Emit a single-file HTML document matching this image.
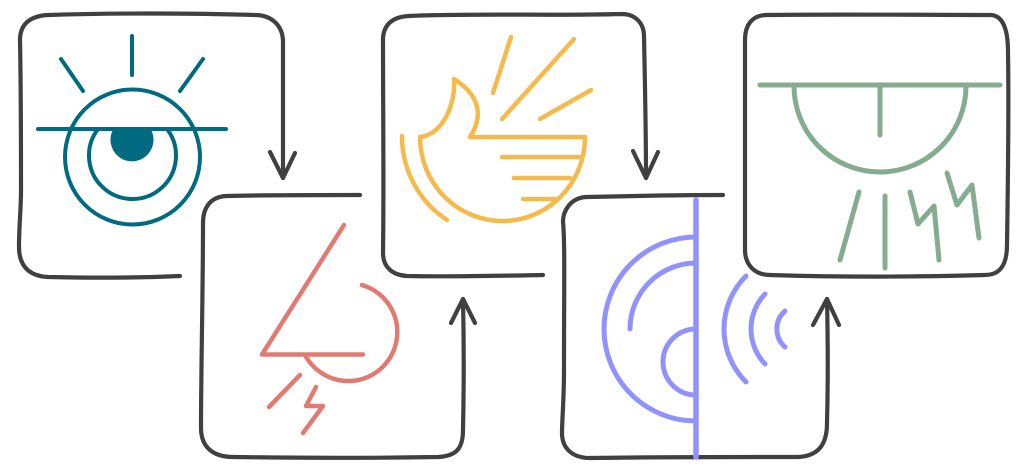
<!DOCTYPE html>
<html>
<head>
<meta charset="utf-8">
<title>Process flow icons</title>
<style>
html,body{margin:0;padding:0;background:#fff;width:1028px;height:470px;overflow:hidden}
svg{display:block}
path,circle{fill:none;stroke-linecap:round;stroke-linejoin:round}
.box path{stroke:#404040;stroke-width:4.2}
.teal path,.teal circle{stroke:#006b80;stroke-width:4}
.red path{stroke:#e07b74;stroke-width:4.5}
.gold path{stroke:#f4bb4c;stroke-width:4.5}
.blue path{stroke:#9292ff;stroke-width:5}
.green path{stroke:#85ab90;stroke-width:5}
</style>
</head>
<body>
<svg width="1028" height="470" viewBox="0 0 1028 470">
<g class="box">
<path d="M180 276 C135 278 90 278 48 277 C27 276 19 264 19 247 C19 225 21 210 21 190 C21 140 21 90 20 40 C20 24 30 16 48 15 C110 13 190 13 255 15 C272 15 283 26 283 42 C283 85 283 130 283 178"/>
<path d="M270 152 L283 178 L295 153"/>
</g>
<g class="box">
<path d="M360 195 C310 195 270 195 226 196 C210 197 203 208 203 223 C203 290 201 370 201 428 C201 447 213 457 233 457 C300 458 380 458 438 457 C455 456 463 450 463 430 C464 385 464 345 463 299"/>
<path d="M451 323 L463 299 L475 323"/>
</g>
<g class="box">
<path d="M543 275 C490 276 445 277 407 276 C391 275 383 266 383 253 C384 190 383 110 383 38 C384 24 393 17 408 16 C475 13 555 16 622 14 C636 14 644 24 644 36 C645 85 646 130 646 178"/>
<path d="M633 151 L646 178 L658 152"/>
</g>
<g class="box">
<path d="M723 195 C675 195 630 196 586 197 C571 198 563 210 563 222 C565 240 564 290 564 370 C564 400 562 420 562 433 C562 448 572 458 590 458 C660 457 740 457 798 457 C818 456 827 445 827 423 C828 385 828 345 827 299"/>
<path d="M813 325 L827 299 L839 325"/>
</g>
<g class="box">
<path d="M767 15 C840 14 920 15 990 15 C1003 15 1008 30 1008 52 C1009 110 1008 180 1007 245 C1007 265 1000 275 985 275 C915 277 835 277 770 275 C755 275 745 265 745 250 C745 185 745 110 745 40 C745 25 752 15 767 15 Z"/>
</g>
<g class="teal">
<circle cx="132.500" cy="157" r="67.500"/>
<path d="M98 129 A43.500 43.500 0 1 0 167 129"/>
<path d="M38 129 L226 129"/>
<path d="M61 59 L83 91"/>
<path d="M132 36 L132 75"/>
<path d="M203 59 L180 91"/>
<path d="M114 129 A21 21 0 1 0 150 129 Z" style="fill:#006b80;stroke-width:1"/>
</g>
<g class="red">
<path d="M344 225 L262 354.500 L363 354.500"/>
<path d="M362 285 A49 49 0 1 1 305 355"/>
<path d="M300 375 L269 407"/>
<path d="M316 387 L306 406 L323 406 L303 433"/>
</g>
<g class="gold">
<path d="M511 37 L493 93"/>
<path d="M574 39 L502 119"/>
<path d="M591 90 L540 119"/>
<path d="M585 137 L470 137 C481 120 484 98 454 79 C456 100 445 134 420 137 A82.500 84 0 0 0 585 137"/>
<path d="M402 136 A100 100 0 0 0 447 220"/>
<path d="M502 157 L580 157"/>
<path d="M514 178 L570 178"/>
<path d="M523 199 L555 199"/>
</g>
<g class="blue">
<path d="M696 200 L696 457" style="stroke-width:5.500"/>
<path d="M696 237 A92 92 0 0 0 696 421"/>
<path d="M696 263 A66 66 0 0 0 630 329"/>
<path d="M696 329 A33 33 0 0 0 696 395"/>
<path d="M746 276 A74.800 74.800 0 0 0 746 382"/>
<path d="M765 294 A50.800 50.800 0 0 0 765 364"/>
<path d="M785 311 A24 24 0 0 0 785 347"/>
</g>
<g class="green">
<path d="M760 85 L1000 85"/>
<path d="M794 86 A86 86 0 0 0 966 86"/>
<path d="M880 86 L880 135"/>
<path d="M859 192 L840 260"/>
<path d="M885 196 L885 268"/>
<path d="M910 192 L918 224 L934 206 L939 260"/>
<path d="M947 173 L957 205 L972 185 L979 238"/>
</g>
</svg>
</body>
</html>
